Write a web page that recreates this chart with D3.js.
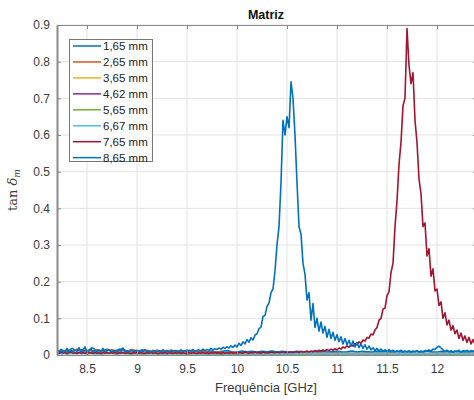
<!DOCTYPE html>
<html><head><meta charset="utf-8">
<script src="https://cdn.jsdelivr.net/npm/d3@7"></script>
<style>body{margin:0;background:#fff}svg{display:block}</style>
</head><body>
<svg id="c" width="474" height="400"></svg>
<script>
// ---- data ----
const seriesNames = ["1,65 mm","2,65 mm","3,65 mm","4,62 mm","5,65 mm","6,67 mm","7,65 mm","8,65 mm"];
const seriesColors = ["#0072BD","#D95319","#EDB120","#7E2F8E","#77AC30","#4DBEEE","#A2142F","#0072BD"];
const xTicks = [8.5,9,9.5,10,10.5,11,11.5,12];
const yTicks = [0,0.1,0.2,0.3,0.4,0.5,0.6,0.7,0.8,0.9];
const freqStart = 8.2;
const coarseStep = 0.05; // baseline series sampling (GHz)
const fineStep = 0.02;   // resonant series sampling (GHz)

const tan165 = [0.010,0.014,0.008,0.018,0.011,0.015,0.009,0.020,0.012,0.010,
 0.016,0.009,0.013,0.017,0.010,0.012,0.008,0.014,0.011,0.009,
 0.013,0.010,0.012,0.008,0.011,0.009,0.013,0.010,0.008,0.012,
 0.009,0.011,0.008,0.010,0.012,0.009,0.008,0.011,0.009,0.010,
 0.008,0.010,0.009,0.011,0.008,0.010,0.009,0.008,0.010,0.009,
 0.008,0.010,0.009,0.011,0.008,0.009,0.010,0.008,0.009,0.011,
 0.008,0.010,0.009,0.008,0.010,0.009,0.011,0.008,0.009,0.010,
 0.008,0.009,0.010,0.008,0.011,0.009,0.008,0.010,0.009,0.008,
 0.010,0.009,0.008,0.010,0.009];
const tan265 = [0.012,0.008,0.014,0.010,0.016,0.009,0.013,0.011,0.015,0.008,
 0.012,0.014,0.009,0.013,0.010,0.015,0.011,0.009,0.013,0.010,
 0.012,0.009,0.011,0.013,0.008,0.010,0.012,0.009,0.007,0.010,
 0.008,0.006,0.009,0.007,0.005,0.008,0.006,0.007,0.005,0.006,
 0.007,0.005,0.006,0.004,0.006,0.005,0.007,0.005,0.004,0.006,
 0.005,0.004,0.006,0.005,0.004,0.005,0.006,0.004,0.005,0.004,
 0.005,0.004,0.006,0.004,0.005,0.004,0.005,0.006,0.004,0.005,
 0.004,0.005,0.004,0.006,0.004,0.005,0.004,0.005,0.004,0.005,
 0.004,0.005,0.004,0.005,0.004];
const tan365 = [0.006,0.004,0.007,0.005,0.004,0.006,0.005,0.007,0.004,0.005,
 0.006,0.004,0.005,0.006,0.004,0.005,0.004,0.006,0.005,0.004,
 0.005,0.004,0.006,0.004,0.005,0.004,0.005,0.004,0.006,0.004,
 0.004,0.005,0.003,0.004,0.005,0.003,0.004,0.003,0.005,0.004,
 0.003,0.004,0.003,0.004,0.003,0.005,0.003,0.004,0.003,0.004,
 0.003,0.004,0.003,0.004,0.003,0.004,0.003,0.004,0.003,0.004,
 0.003,0.004,0.003,0.004,0.003,0.004,0.003,0.004,0.003,0.004,
 0.003,0.004,0.003,0.004,0.003,0.004,0.003,0.004,0.003,0.004,
 0.003,0.004,0.003,0.004,0.003];
const tan462 = [0.005,0.007,0.004,0.006,0.005,0.008,0.004,0.006,0.005,0.004,
 0.006,0.005,0.004,0.007,0.005,0.004,0.006,0.004,0.005,0.006,
 0.004,0.005,0.004,0.006,0.004,0.005,0.003,0.005,0.004,0.005,
 0.003,0.004,0.005,0.003,0.004,0.003,0.004,0.005,0.003,0.004,
 0.003,0.004,0.003,0.004,0.003,0.004,0.003,0.005,0.003,0.004,
 0.003,0.004,0.003,0.004,0.003,0.004,0.003,0.004,0.003,0.004,
 0.003,0.004,0.003,0.004,0.003,0.004,0.003,0.004,0.003,0.004,
 0.003,0.004,0.003,0.004,0.003,0.004,0.003,0.004,0.003,0.004,
 0.003,0.004,0.003,0.004,0.003];
const tan565 = [0.004,0.006,0.003,0.005,0.004,0.006,0.003,0.005,0.004,0.003,
 0.005,0.004,0.003,0.005,0.004,0.003,0.005,0.003,0.004,0.005,
 0.003,0.004,0.003,0.005,0.003,0.004,0.003,0.004,0.003,0.004,
 0.003,0.004,0.002,0.003,0.004,0.002,0.003,0.002,0.004,0.003,
 0.002,0.003,0.002,0.003,0.002,0.003,0.002,0.003,0.002,0.003,
 0.002,0.003,0.002,0.003,0.002,0.003,0.002,0.003,0.002,0.003,
 0.002,0.003,0.002,0.003,0.002,0.003,0.002,0.003,0.002,0.003,
 0.002,0.003,0.002,0.003,0.002,0.003,0.002,0.003,0.002,0.003,
 0.002,0.003,0.002,0.003,0.002];
const tan667 = [0.005,0.003,0.006,0.004,0.005,0.003,0.006,0.004,0.003,0.005,
 0.004,0.006,0.003,0.004,0.005,0.003,0.004,0.005,0.003,0.004,
 0.005,0.003,0.004,0.003,0.005,0.003,0.004,0.005,0.003,0.004,
 0.003,0.004,0.003,0.005,0.003,0.004,0.003,0.004,0.003,0.004,
 0.003,0.004,0.003,0.004,0.003,0.004,0.003,0.004,0.003,0.004,
 0.004,0.003,0.004,0.003,0.004,0.003,0.004,0.003,0.004,0.003,
 0.004,0.003,0.004,0.003,0.004,0.003,0.004,0.003,0.004,0.003,
 0.004,0.003,0.004,0.003,0.004,0.003,0.004,0.003,0.004,0.003,
 0.004,0.003,0.004,0.003,0.004];
const tan765 = [
 0.006,0.004,0.008,0.005,0.007,0.004,0.006,0.008,0.005,0.006,
 0.004,0.007,0.005,0.006,0.004,0.008,0.005,0.006,0.004,0.007,
 0.005,0.006,0.004,0.007,0.005,0.006,0.004,0.006,0.005,0.007,
 0.004,0.006,0.005,0.007,0.004,0.006,0.005,0.004,0.006,0.005,
 0.007,0.004,0.006,0.005,0.004,0.006,0.005,0.007,0.004,0.006,
 0.005,0.004,0.006,0.005,0.007,0.004,0.006,0.005,0.004,0.006,
 0.005,0.007,0.004,0.006,0.005,0.004,0.006,0.005,0.007,0.005,
 0.004,0.006,0.005,0.007,0.005,0.006,0.004,0.006,0.005,0.007,
 0.005,0.006,0.004,0.007,0.005,0.006,0.005,0.007,0.005,0.006,
 0.005,0.007,0.006,0.005,0.008,0.006,0.005,0.007,0.006,0.008,
 0.006,0.007,0.005,0.008,0.006,0.007,0.006,0.008,0.007,0.006,
 0.008,0.006,0.007,0.009,0.006,0.008,0.007,0.009,0.007,0.008,
 0.009,0.007,0.010,0.008,0.009,0.011,0.008,0.010,0.009,0.012,
 0.010,0.013,0.011,0.014,0.011,0.015,0.012,0.016,0.013,0.017,
 0.014,0.019,0.016,0.022,0.019,0.025,0.021,0.028,0.024,0.031,
 0.028,0.036,0.032,0.041,0.038,0.048,0.046,0.057,0.055,0.068,
 0.075,0.095,0.100,0.125,0.128,0.162,0.172,0.225,0.250,0.350,
 0.420,0.520,0.580,0.680,0.700,0.890,0.790,0.740,0.770,0.640,
 0.580,0.480,0.440,0.350,0.360,0.270,0.290,0.215,0.235,0.175,
 0.180,0.135,0.145,0.100,0.115,0.082,0.095,0.068,0.080,0.058,
 0.068,0.045,0.060,0.040,0.052,0.034,0.048,0.030,0.042,0.028,
 0.036];
const tan865 = [
 0.012,0.008,0.015,0.006,0.010,0.018,0.009,0.012,0.007,0.014,
 0.010,0.020,0.008,0.013,0.022,0.009,0.011,0.016,0.007,0.012,
 0.009,0.014,0.010,0.018,0.008,0.012,0.015,0.009,0.011,0.013,
 0.008,0.016,0.010,0.019,0.009,0.012,0.007,0.014,0.010,0.011,
 0.013,0.008,0.012,0.010,0.015,0.009,0.011,0.007,0.013,0.010,
 0.009,0.012,0.008,0.014,0.010,0.011,0.008,0.013,0.010,0.012,
 0.011,0.009,0.014,0.010,0.012,0.008,0.013,0.011,0.015,0.010,
 0.012,0.014,0.011,0.016,0.012,0.015,0.013,0.018,0.014,0.017,
 0.015,0.019,0.016,0.021,0.018,0.022,0.019,0.025,0.021,0.027,
 0.022,0.032,0.026,0.036,0.030,0.042,0.035,0.047,0.041,0.054,
 0.058,0.072,0.076,0.105,0.108,0.132,0.142,0.170,0.180,0.230,
 0.300,0.350,0.470,0.640,0.600,0.650,0.620,0.745,0.700,0.600,
 0.470,0.350,0.330,0.250,0.220,0.150,0.170,0.095,0.140,0.075,
 0.100,0.065,0.090,0.060,0.078,0.048,0.070,0.045,0.062,0.040,
 0.055,0.036,0.050,0.030,0.045,0.028,0.040,0.024,0.038,0.022,
 0.034,0.020,0.030,0.018,0.028,0.016,0.024,0.014,0.020,0.012,
 0.018,0.011,0.016,0.010,0.014,0.009,0.015,0.010,0.013,0.009,
 0.012,0.009,0.013,0.008,0.011,0.009,0.012,0.008,0.011,0.009,
 0.012,0.008,0.011,0.009,0.012,0.010,0.014,0.011,0.016,0.015,
 0.021,0.024,0.019,0.014,0.010,0.013,0.009,0.012,0.008,0.011,
 0.009,0.013,0.008,0.012,0.010,0.013,0.009,0.012,0.010,0.012,
 0.010];

const seriesValues = [tan165,tan265,tan365,tan462,tan565,tan667,tan765,tan865];
const seriesSteps = [coarseStep,coarseStep,coarseStep,coarseStep,coarseStep,coarseStep,fineStep,fineStep];

// ---- layout ----
const svg = d3.select("#c");
const L = 57, R = 477, T = 25, B = 355;
const x = d3.scaleLinear().domain([8.2, 12.4]).range([L, R]);
const y = d3.scaleLinear().domain([0, 0.9]).range([B, T]);
const font = "'Liberation Sans', Arial, Helvetica, sans-serif";
const axisCol = "#8a8a8a";
const txtCol = "#3a3a3a";

// grid
const grid = svg.append("g");
grid.selectAll(".gx").data(xTicks).join("line")
  .attr("x1", d => x(d)).attr("x2", d => x(d)).attr("y1", T).attr("y2", B)
  .attr("stroke", "#e3e3e3").attr("stroke-width", 1);
grid.selectAll(".gy").data(yTicks.slice(1)).join("line")
  .attr("x1", L).attr("x2", R).attr("y1", d => y(d)).attr("y2", d => y(d))
  .attr("stroke", "#e3e3e3").attr("stroke-width", 1);

// data
svg.append("defs").append("clipPath").attr("id", "clip")
  .append("rect").attr("x", L).attr("y", T - 2).attr("width", R - L).attr("height", B - T + 2);
const plot = svg.append("g").attr("clip-path", "url(#clip)");
seriesValues.forEach((vals, si) => {
  const step = seriesSteps[si];
  const line = d3.line().x((d, i) => x(freqStart + i * step)).y(d => y(d));
  plot.append("path").datum(vals)
    .attr("d", line).attr("fill", "none")
    .attr("stroke", seriesColors[si]).attr("stroke-width", 1.6)
    .attr("stroke-linejoin", "round");
});

// axes (MATLAB-style box with inward ticks)
const axB = d3.axisBottom(x).tickValues(xTicks).tickSizeInner(-4).tickSizeOuter(0).tickPadding(9).tickFormat(d3.format("~g"));
const axT = d3.axisTop(x).tickValues(xTicks).tickSizeInner(-4).tickSizeOuter(0).tickFormat("");
const axL = d3.axisLeft(y).tickValues(yTicks).tickSizeInner(-4).tickSizeOuter(0).tickPadding(7).tickFormat(d3.format("~g"));
const axR = d3.axisRight(y).tickValues(yTicks).tickSizeInner(-4).tickSizeOuter(0).tickFormat("");
function style(g, w) {
  g.select(".domain").attr("stroke", axisCol).attr("stroke-width", w);
  g.selectAll(".tick line").attr("stroke", axisCol);
  g.selectAll(".tick text").attr("fill", txtCol).style("font-family", font).style("font-size", "12px");
}
svg.append("g").attr("transform", `translate(0,${B})`).call(axB).call(g => style(g, 1));
svg.append("g").attr("transform", `translate(0,${T})`).call(axT).call(g => style(g, 1));
svg.append("g").attr("transform", `translate(${L},0)`).call(axL).call(g => style(g, 2));
svg.append("g").attr("transform", `translate(${R},0)`).call(axR).call(g => style(g, 1));

// title
svg.append("text").attr("x", 266).attr("y", 19).attr("text-anchor", "middle")
  .style("font-family", font).style("font-size", "12.5px").style("font-weight", "bold")
  .attr("fill", "#111").text("Matriz");

// x label
svg.append("text").attr("x", 266).attr("y", 392).attr("text-anchor", "middle")
  .style("font-family", font).style("font-size", "13px").attr("fill", txtCol)
  .text("Frequência [GHz]");

// y label
const yl = svg.append("text").attr("transform", "translate(17,190) rotate(-90)")
  .attr("text-anchor", "middle").style("font-family", "'DejaVu Serif','Liberation Serif',serif")
  .style("font-size", "13px").attr("fill", txtCol);
yl.append("tspan").text("tan ");
yl.append("tspan").style("font-style", "italic").text("δ");
yl.append("tspan").style("font-style", "italic").style("font-size", "9px").attr("dy", 3).text("m");

// legend
const lg = svg.append("g");
lg.append("rect").attr("x", 69.5).attr("y", 39.5).attr("width", 83).attr("height", 122)
  .attr("fill", "#fff").attr("stroke", "#777").attr("stroke-width", 1);
const items = lg.selectAll(".it").data(seriesNames).join("g")
  .attr("transform", (d, i) => `translate(0,${46 + i * 15.95})`);
items.append("line").attr("x1", 73).attr("x2", 101).attr("y1", 0).attr("y2", 0)
  .attr("stroke", (d, i) => seriesColors[i]).attr("stroke-width", 1.5);
items.append("text").attr("x", 103).attr("y", 4).style("font-family", font)
  .style("font-size", "11.5px").attr("fill", "#222").text(d => d);
</script>
</body></html>
